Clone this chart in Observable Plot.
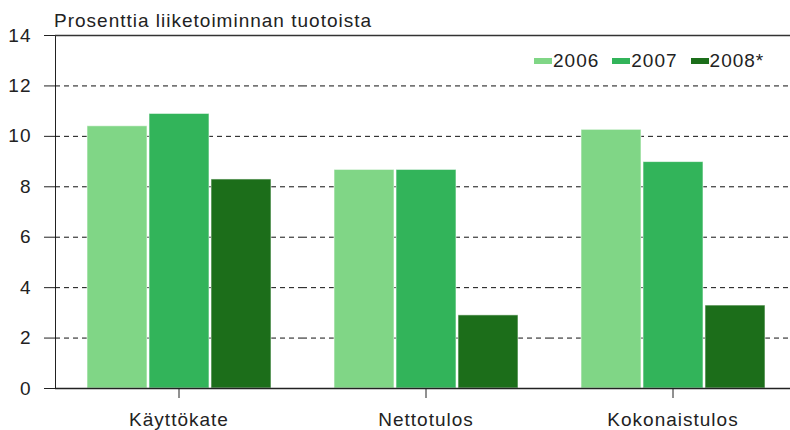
<!DOCTYPE html>
<html>
<head>
<meta charset="utf-8">
<script src="https://cdn.jsdelivr.net/npm/d3@7"></script>
<script src="https://cdn.jsdelivr.net/npm/@observablehq/plot@0.6"></script>
<style>
  body { margin: 0; background: #fff; }
  #chart { position: relative; width: 790px; height: 430px; font-family: "Liberation Sans", Arial, sans-serif; color: #222; }
  #title { position: absolute; left: 54px; top: 11px; font-size: 19px; line-height: 19px; letter-spacing: 1px; white-space: nowrap; }
  #legend { position: absolute; left: 534px; top: 51px; font-size: 19px; line-height: 20px; letter-spacing: 1px; display: flex; white-space: nowrap; }
  #legend .item { display: flex; align-items: center; margin-right: 13px; }
  #legend .sw { width: 18px; height: 6px; margin-right: 1px; }
  #chart svg { position: absolute; left: 0; top: 0; }
</style>
</head>
<body>
<div id="chart">
  <div id="title"></div>
  <div id="legend"></div>
</div>
<script>
const titleText = "Prosenttia liiketoiminnan tuotoista";
const categories = ["Käyttökate", "Nettotulos", "Kokonaistulos"];
const years = ["2006", "2007", "2008*"];
const values2006 = [10.4, 8.67, 10.26];
const values2007 = [10.89, 8.67, 8.98];
const values2008 = [8.29, 2.9, 3.29];
const colors = ["#80d686", "#32b45a", "#1c6e1a"];
const yTicks = [0, 2, 4, 6, 8, 10, 12, 14];

const series = [values2006, values2007, values2008];
const data = [];
categories.forEach((c, i) => {
  years.forEach((y, j) => data.push({category: c, year: y, value: series[j][i]}));
});

document.getElementById("title").textContent = titleText;

const legend = d3.select("#legend");
years.forEach((y, j) => {
  const item = legend.append("div").attr("class", "item");
  item.append("div").attr("class", "sw").style("background", colors[j]);
  item.append("span").text(y);
});

const chart = Plot.plot({
  width: 790,
  height: 430,
  marginLeft: 54,
  marginRight: 0,
  marginTop: 35,
  marginBottom: 42,
  style: {fontFamily: "'Liberation Sans', Arial, sans-serif", fontSize: "19px", letterSpacing: "1px", color: "#222", background: "transparent", overflow: "hidden"},
  facet: {data: data, x: "category"},
  fx: {domain: categories, range: [54, 796.5], padding: 0, axis: "bottom", label: null, tickSize: 10, tickPadding: 14},
  x: {domain: years, paddingInner: 0.04, paddingOuter: 0.51, axis: null},
  y: {domain: [0, 14], ticks: yTicks, tickSize: 11, tickPadding: 13, label: null, line: true},
  color: {domain: years, range: colors},
  marks: [
    Plot.ruleY(yTicks.filter(t => t > 0 && t < 14), {stroke: "#111", strokeDasharray: "5,4", strokeWidth: 1}),
    Plot.barY(data, {x: "year", y: "value", fill: "year", stroke: "#ffffff", strokeOpacity: 0.6, strokeWidth: 1}),
    Plot.ruleY([14], {stroke: "#333", strokeWidth: 1.5}),
    Plot.ruleY([0], {stroke: "#222", strokeWidth: 1.5})
  ]
});
document.getElementById("chart").prepend(chart);
</script>
</body>
</html>
